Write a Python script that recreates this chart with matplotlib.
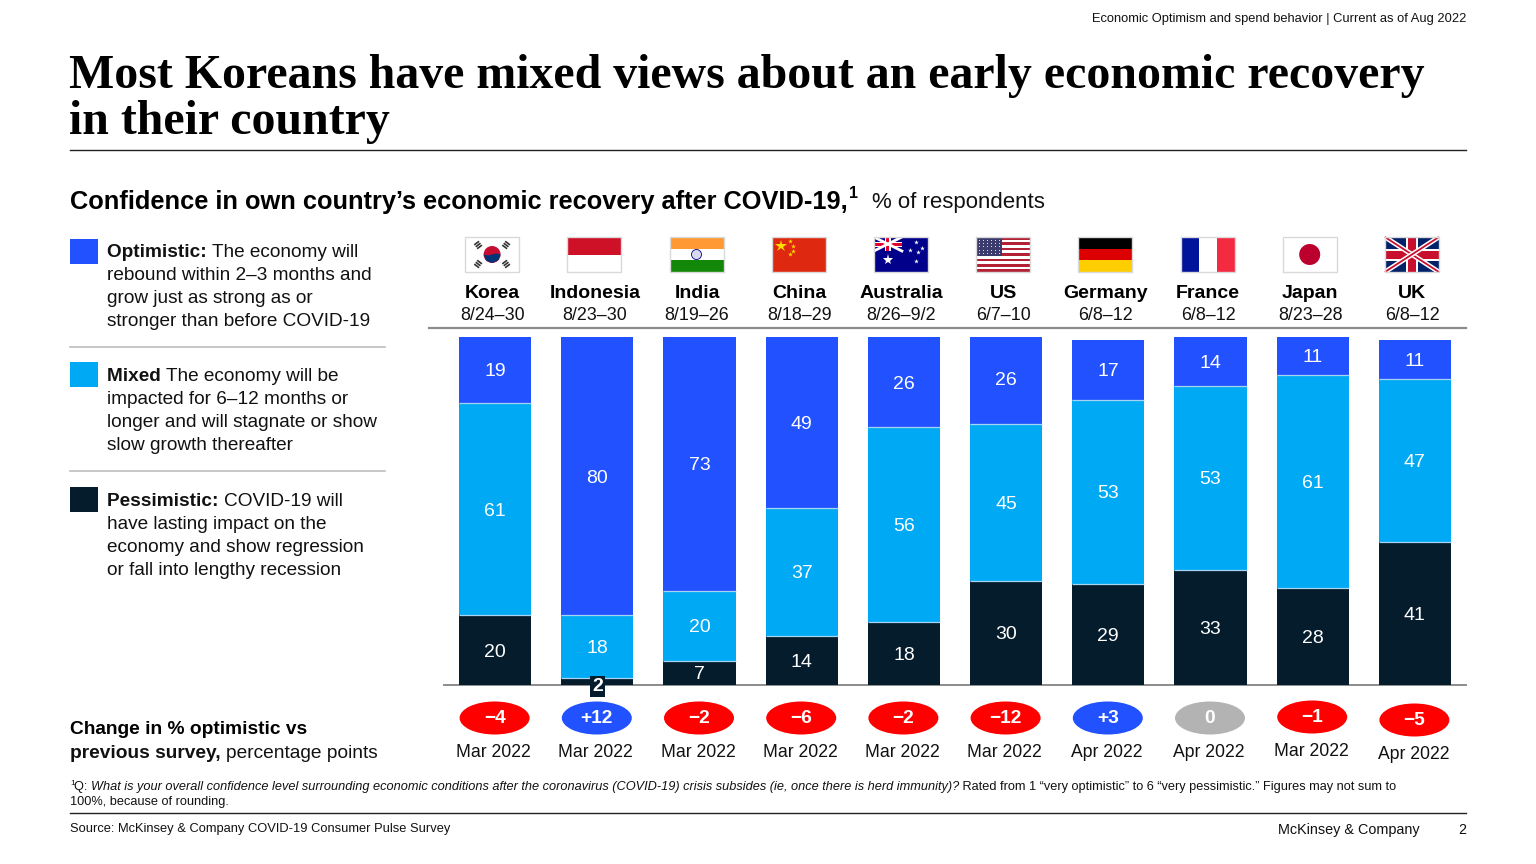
import matplotlib
matplotlib.use("Agg")
import matplotlib.pyplot as plt
from matplotlib.patches import Rectangle, Ellipse, Circle, Polygon

plt.rcParams['font.family'] = ['Liberation Sans', 'DejaVu Sans']

countries = ["Korea", "Indonesia", "India", "China", "Australia", "US", "Germany", "France", "Japan", "UK"]
dates = ["8/24–30", "8/23–30", "8/19–26", "8/18–29", "8/26–9/2", "6/7–10", "6/8–12", "6/8–12", "8/23–28", "6/8–12"]
optimistic = [19, 80, 73, 49, 26, 26, 17, 14, 11, 11]
mixed = [61, 18, 20, 37, 56, 45, 53, 53, 61, 47]
pessimistic = [20, 2, 7, 14, 18, 30, 29, 33, 28, 41]
changes = ["−4", "+12", "−2", "−6", "−2", "−12", "+3", "0", "−1", "−5"]
previous = ["Mar 2022", "Mar 2022", "Mar 2022", "Mar 2022", "Mar 2022", "Mar 2022", "Apr 2022", "Apr 2022", "Mar 2022", "Apr 2022"]

W, H = 1536, 864
C_OPT, C_MIX, C_PES = "#2251FF", "#00A9F4", "#051C2C"
RED, GREY = "#FF0000", "#B3B3B3"

fig = plt.figure(figsize=(W / 100, H / 100), dpi=100, facecolor="white")
ov = fig.add_axes([0, 0, 1, 1], zorder=1)
ov.set_xlim(0, W); ov.set_ylim(H, 0); ov.axis("off")
L, R, T, B = 444, 1466, 337, 685
ax = fig.add_axes([L / W, 1 - B / H, (R - L) / W, (B - T) / H], zorder=2)
ax.set_xlim(-0.5, 9.5); ax.set_ylim(0, 100); ax.axis("off"); ax.patch.set_alpha(0)

xs = list(range(len(countries)))
bw = 0.705
bottom2 = [p + m for p, m in zip(pessimistic, mixed)]
ax.bar(xs, pessimistic, bw, color=C_PES, edgecolor="none")
ax.bar(xs, mixed, bw, bottom=pessimistic, color=C_MIX, edgecolor="none")
ax.bar(xs, optimistic, bw, bottom=bottom2, color=C_OPT, edgecolor="none")
for i in xs:
    for lev in (pessimistic[i], bottom2[i]):
        ax.plot([i - bw / 2, i + bw / 2], [lev, lev], color="#A6D4F2", lw=0.9, solid_capstyle="butt")

def val(i, y, s, **kw):
    ax.annotate(s, (i, y), xytext=(0, -1.3), textcoords="offset points", color="white",
                ha="center", va="center", fontsize=14, annotation_clip=False, **kw)

for i in xs:
    p, m, o = pessimistic[i], mixed[i], optimistic[i]
    if p < 4:
        val(i, p / 2 - 1, str(p), fontweight="bold", bbox=dict(facecolor=C_PES, edgecolor="none", pad=1.5), zorder=5)
    else:
        val(i, p / 2, str(p))
    val(i, p + m / 2, str(m))
    val(i, p + m + o / 2, str(o))

def cx(i):
    return L + (i + 0.5) * (R - L) / 10

def T_(x, y, s, **kw):
    kw.setdefault("va", "center"); kw.setdefault("color", "#111111")
    return ov.text(x, y, s, **kw)

def runs(x, y, parts, size):
    r = fig.canvas.get_renderer()
    for s, w, st in parts:
        t = T_(x, y, s, fontsize=size, fontweight=w, fontstyle=st)
        x += t.get_window_extent(r).width

T_(1466, 19, "Economic Optimism and spend behavior | Current as of Aug 2022", ha="right", fontsize=9.3)
for y, s in [(75.5, "Most Koreans have mixed views about an early economic recovery"), (121.5, "in their country")]:
    T_(69, y, s, family="Liberation Serif", fontweight="bold", fontsize=34.5, color="black")
ov.plot([70, 1466], [150, 150], color="#222222", lw=1)

r = fig.canvas.get_renderer()
t = T_(70, 201.5, "Confidence in own country’s economic recovery after COVID-19,", fontsize=18.25, fontweight="bold", color="black")
ex = t.get_window_extent(r).width
T_(70 + ex + 1, 193, "1", fontsize=11.5, fontweight="bold", color="black")
T_(872, 202.5, "% of respondents", fontsize=16)

legend = [
    (C_OPT, 239, [("Optimistic:", "The economy will"), ("", "rebound within 2–3 months and"), ("", "grow just as strong as or"), ("", "stronger than before COVID-19")], 252.5),
    (C_MIX, 362, [("Mixed", "The economy will be"), ("", "impacted for 6–12 months or"), ("", "longer and will stagnate or show"), ("", "slow growth thereafter")], 376.5),
    (C_PES, 487, [("Pessimistic:", "COVID-19 will"), ("", "have lasting impact on the"), ("", "economy and show regression"), ("", "or fall into lengthy recession")], 501.5),
]
for col, ytop, lines, y0 in legend:
    ov.add_patch(Rectangle((70, ytop), 28, 25, color=col, lw=0))
    for k, (b, n) in enumerate(lines):
        y = y0 + k * 23
        if b:
            runs(107, y, [(b + " ", "bold", "normal"), (n, "normal", "normal")], 13.7)
        else:
            T_(107, y, n, fontsize=13.7)
for y in (347, 471):
    ov.plot([70, 385], [y, y], color="#BDBDBD", lw=1.2)

ov.plot([429, 1466], [327.5, 327.5], color="#8C8C8C", lw=1.6)
ov.plot([444, 1466], [685, 685], color="#8C8C8C", lw=1.4, zorder=5)

FW, FH = 54, 35
def rect(x, y, w, h, c, **k):
    ov.add_patch(Rectangle((x, y), w, h, facecolor=c, edgecolor="none", **k))

def flag(i, name):
    x = cx(i) - FW / 2 - 3
    y = 237
    if name == "Korea":
        m = (x + FW / 2, y + FH / 2)
        ov.add_patch(Circle(m, 8.5, color="#C60C30", lw=0))
        ov.add_patch(Polygon([(m[0] - 8.5, m[1]), (m[0] - 4, m[1] + 1), (m[0] + 4, m[1] - 1), (m[0] + 8.5, m[1]),
                              (m[0] + 6, m[1] + 6), (m[0], m[1] + 8.5), (m[0] - 6, m[1] + 6)], color="#003478", lw=0))
        for sx, sy in [(-1, -1), (1, -1), (-1, 1), (1, 1)]:
            a, b = m[0] + sx * 14, m[1] + sy * 9.5
            for d in (-2.4, 0, 2.4):
                px, py = a + d * 0.6, b + d * 0.8 * sx * sy
                ov.plot([px - 2.4, px + 2.4], [py + sx * sy * 1.8, py - sx * sy * 1.8],
                        color="#333333", lw=1.2, solid_capstyle="butt")
    elif name == "Indonesia":
        rect(x, y, FW, FH / 2, "#CE1126")
    elif name == "India":
        rect(x, y, FW, FH / 3, "#FF9933"); rect(x, y + 2 * FH / 3, FW, FH / 3, "#138808")
        ov.add_patch(Circle((x + FW / 2, y + FH / 2), 5, fc="#D8D8F0", ec="#000080", lw=0.6))
    elif name == "China":
        rect(x, y, FW, FH, "#DE2910")
        ov.plot([x + 9], [y + 9], marker="*", ms=9, color="#FFDE00", mew=0)
        for a, b in [(18, 4), (21, 9), (21, 14), (18, 17)]:
            ov.plot([x + a], [y + b], marker="*", ms=3.5, color="#FFDE00", mew=0)
    elif name == "Australia":
        rect(x, y, FW, FH, "#00008B")
        ov.plot([x, x + 28], [y, y + 14], color="white", lw=2); ov.plot([x, x + 28], [y + 14, y], color="white", lw=2)
        rect(x + 11, y, 6, 14, "white"); rect(x, y + 4.5, 28, 5, "white")
        rect(x + 12.5, y, 3, 14, "#E4002B"); rect(x, y + 5.5, 28, 3, "#E4002B")
        ov.plot([x + 14], [y + 23], marker="*", ms=8, color="white", mew=0)
        for a, b in [(42, 5), (48, 11), (36, 13), (42, 24), (44, 15)]:
            ov.plot([x + a], [y + b], marker="*", ms=3.5, color="white", mew=0)
    elif name == "US":
        for k in range(13):
            rect(x, y + k * FH / 13, FW, FH / 13, "#B22234" if k % 2 == 0 else "white")
        rect(x, y, 26, 19, "#3C3B6E")
        for a in range(6):
            for b in range(5):
                ov.plot([x + 3 + a * 4], [y + 2.5 + b * 3.4], marker=".", ms=1.5, color="white", mew=0)
    elif name == "Germany":
        rect(x, y, FW, FH / 3, "black"); rect(x, y + FH / 3, FW, FH / 3, "#DD0000"); rect(x, y + 2 * FH / 3, FW, FH / 3, "#FFCE00")
    elif name == "France":
        rect(x, y, FW / 3, FH, "#00149B"); rect(x + 2 * FW / 3, y, FW / 3, FH, "#F42A41")
    elif name == "Japan":
        ov.add_patch(Circle((x + FW / 2, y + FH / 2), 10.5, color="#BC002D", lw=0))
    elif name == "UK":
        rect(x, y, FW, FH, "#012169")
        for y0, y1 in [(y, y + FH), (y + FH, y)]:
            ov.plot([x, x + FW], [y0, y1], color="white", lw=3.5, solid_capstyle="butt")
            ov.plot([x, x + FW], [y0, y1], color="#C8102E", lw=1.3, solid_capstyle="butt")
        rect(x + FW / 2 - 6, y, 12, FH, "white"); rect(x, y + FH / 2 - 6, FW, 12, "white")
        rect(x + FW / 2 - 4, y, 8, FH, "#C8102E"); rect(x, y + FH / 2 - 4, FW, 8, "#C8102E")
    ov.add_patch(Rectangle((x, y), FW, FH, fill=False, edgecolor="#D9D9D9", lw=1, zorder=4))

ell_dy = [0, 0, 0, 0, 0, 0, 0, 0, -1, 2]
for i, name in enumerate(countries):
    c = cx(i) - 2.5
    flag(i, name)
    T_(c, 293, name, ha="center", fontsize=14, fontweight="bold", color="black")
    T_(c, 316, dates[i], ha="center", fontsize=12.9)
    v = changes[i]
    col = GREY if v == "0" else (C_OPT if v.startswith("+") else RED)
    ey = 718 + ell_dy[i]
    ov.add_patch(Ellipse((cx(i) - 0.5, ey), 70, 33, facecolor=col, edgecolor="none"))
    T_(cx(i) - 0.5, ey + 0.5, v, ha="center", color="white", fontsize=13.8, fontweight="bold")
    T_(cx(i) - 1.5, 752.5 + ell_dy[i], previous[i], ha="center", fontsize=12.7)

T_(70, 730, "Change in % optimistic vs", fontsize=13.8, fontweight="bold", color="black")
runs(70, 753, [("previous survey, ", "bold", "normal"), ("percentage points", "normal", "normal")], 13.8)

fs = 9.23
T_(70, 783.5, "1", fontsize=6)
runs(74, 787, [("Q: ", "normal", "normal"),
               ("What is your overall confidence level surrounding economic conditions after the coronavirus (COVID-19) crisis subsides (ie, once there is herd immunity)?", "normal", "italic"),
               (" Rated from 1 “very optimistic” to 6 “very pessimistic.” Figures may not sum to", "normal", "normal")], fs)
T_(70, 802.5, "100%, because of rounding.", fontsize=fs)
ov.plot([70, 1466], [813, 813], color="#222222", lw=1)
T_(70, 829, "Source: McKinsey & Company COVID-19 Consumer Pulse Survey", fontsize=9.3)
T_(1420, 830, "McKinsey & Company", ha="right", fontsize=10.4)
T_(1466, 830, "2", ha="right", fontsize=10.4)

fig.savefig("out.png", dpi=100)
